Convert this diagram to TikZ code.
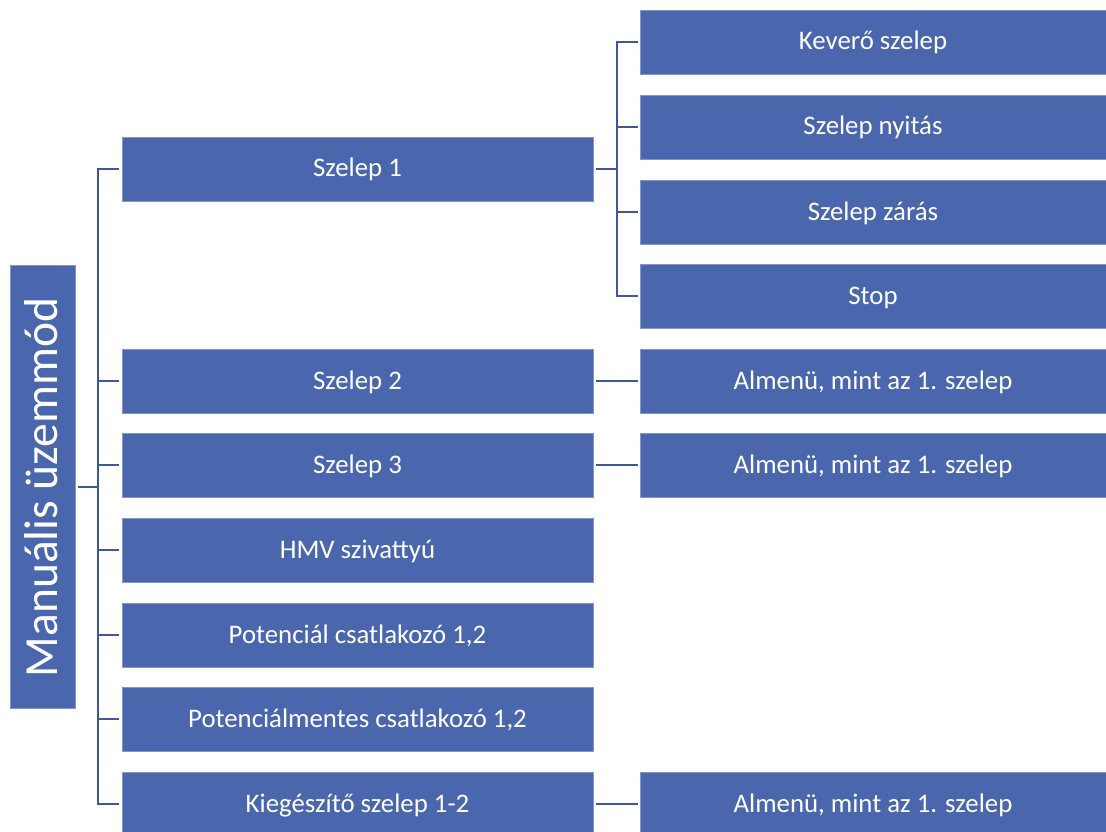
\documentclass[tikz,border=0pt]{standalone}
\usepackage{fontspec}
\setmainfont{Carlito}
\definecolor{boxblue}{HTML}{4A67AD}
\definecolor{edgeblue}{HTML}{8496C8}
\definecolor{lineblue}{HTML}{40589A}
\tikzset{
  box/.style={fill=boxblue, draw=edgeblue, line width=0.6pt, text=white, inner sep=0pt,
    font=\fontsize{26.8}{30}\selectfont, text height=21pt, text depth=5pt},
  midbox/.style={box, minimum width=471pt, minimum height=64pt},
  rightbox/.style={box, minimum width=466pt, minimum height=64pt},
  conn/.style={draw=lineblue, line width=2pt}
}
\begin{document}
\begin{tikzpicture}[x=1pt,y=-1pt]
\useasboundingbox (0,0) rectangle (1106,832);
\clip (0,0) rectangle (1106,832);
\node[fill=boxblue, draw=edgeblue, line width=0.6pt, minimum width=65pt, minimum height=443pt, inner sep=0pt] (L) at (42.5,486.5) {};
\node[text=white, rotate=90, inner sep=0pt, font=\fontsize{47.5}{52}\selectfont, text height=38pt, text depth=9pt] (Lt) at (42.5,487.5) {Manuális üzemmód};

\node[midbox] (m1) at (357.5,169) {Szelep 1};
\node[midbox] (m2) at (357.5,381) {Szelep 2};
\node[midbox] (m3) at (357.5,465) {Szelep 3};
\node[midbox] (m4) at (357.5,550) {HMV szivattyú};
\node[midbox] (m5) at (357.5,635) {Potenciál csatlakozó 1,2};
\node[midbox] (m6) at (357.5,719) {Potenciálmentes csatlakozó 1,2};
\node[midbox] (m7) at (357.5,804) {Kiegészítő szelep 1-2};

\node[rightbox] (r1) at (873,42) {Keverő szelep};
\node[rightbox] (r2) at (873,127) {Szelep nyitás};
\node[rightbox] (r3) at (873,212) {Szelep zárás};
\node[rightbox] (r4) at (873,296) {Stop};
\node[rightbox] (a2) at (873,381) {Almenü, mint az 1. szelep};
\node[rightbox] (a3) at (873,465) {Almenü, mint az 1. szelep};
\node[rightbox] (a7) at (873,804) {Almenü, mint az 1. szelep};

\coordinate (lstart) at ([xshift=3pt]L.east);
\foreach \m in {m1,m2,m3,m4,m5,m6,m7}{
  \draw[conn] (lstart) -- ++(20,0) |- ([xshift=-3pt]\m.west);
}
\coordinate (sstart) at ([xshift=3pt]m1.east);
\foreach \r in {r1,r2,r3,r4}{
  \draw[conn] (sstart) -- ++(21,0) |- ([xshift=-2pt]\r.west);
}
\draw[conn] ([xshift=3pt]m2.east) -- ([xshift=-2pt]a2.west);
\draw[conn] ([xshift=3pt]m3.east) -- ([xshift=-2pt]a3.west);
\draw[conn] ([xshift=3pt]m7.east) -- ([xshift=-2pt]a7.west);
\end{tikzpicture}
\end{document}
